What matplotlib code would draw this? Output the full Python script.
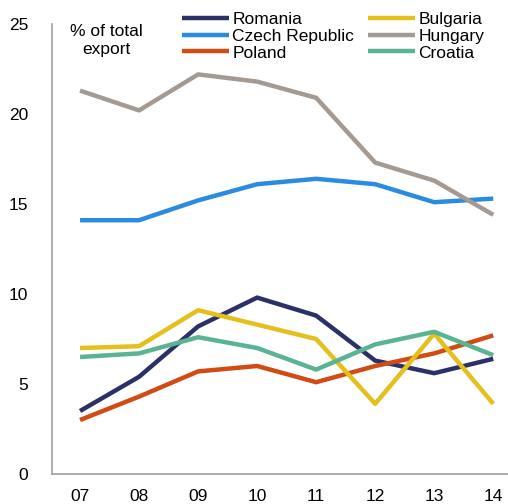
import matplotlib.pyplot as plt
import numpy as np

plt.rcParams['font.family'] = ['Liberation Sans', 'DejaVu Sans']

years = ['07', '08', '09', '10', '11', '12', '13', '14']
romania = [3.5, 5.4, 8.2, 9.8, 8.8, 6.3, 5.6, 6.4]
bulgaria = [7.0, 7.1, 9.1, 8.3, 7.5, 3.9, 7.8, 3.9]
czech = [14.1, 14.1, 15.2, 16.1, 16.4, 16.1, 15.1, 15.3]
hungary = [21.3, 20.2, 22.2, 21.8, 20.9, 17.3, 16.3, 14.4]
poland = [3.0, 4.3, 5.7, 6.0, 5.1, 6.0, 6.7, 7.7]
croatia = [6.5, 6.7, 7.6, 7.0, 5.8, 7.2, 7.9, 6.6]

series = [
    ('Romania', romania, '#2b3166'),
    ('Czech Republic', czech, '#2b8be0'),
    ('Poland', poland, '#d24a14'),
    ('Bulgaria', bulgaria, '#e5bf1c'),
    ('Hungary', hungary, '#a59a92'),
    ('Croatia', croatia, '#5ab393'),
]

fig = plt.figure(figsize=(5.08, 5.04), dpi=100)
ax = fig.add_axes([52/508, 30/504, 456/508, 450/504])

x = np.arange(len(years))
for name, vals, col in series:
    ax.plot(x, vals, color=col, lw=3.2, label=name, solid_capstyle='butt')

ax.set_xlim(-0.475, 7.25)
ax.set_ylim(0, 25)
ax.set_xticks(x)
ax.set_xticklabels(years)
ax.set_yticks([0, 5, 10, 15, 20, 25])
ax.tick_params(length=0, labelsize=12.5)
ax.tick_params(axis='y', pad=17)
ax.tick_params(axis='x', pad=11)
for s in ['top', 'right']:
    ax.spines[s].set_visible(False)
for s in ['left', 'bottom']:
    ax.spines[s].set_color('#a0a0a0')
    ax.spines[s].set_linewidth(1.2)

ax.text(0.12, 1.0, '% of total\nexport', transform=ax.transAxes, ha='center', va='top',
        fontsize=12.5, linespacing=1.25)

ax.legend(ncol=2, loc='upper left', bbox_to_anchor=(0.27, 1.043), frameon=False,
          fontsize=12.5, handlelength=2.7, handletextpad=0.2, labelspacing=0.1,
          columnspacing=0.8, borderaxespad=0)

fig.savefig('out.png', dpi=100)
